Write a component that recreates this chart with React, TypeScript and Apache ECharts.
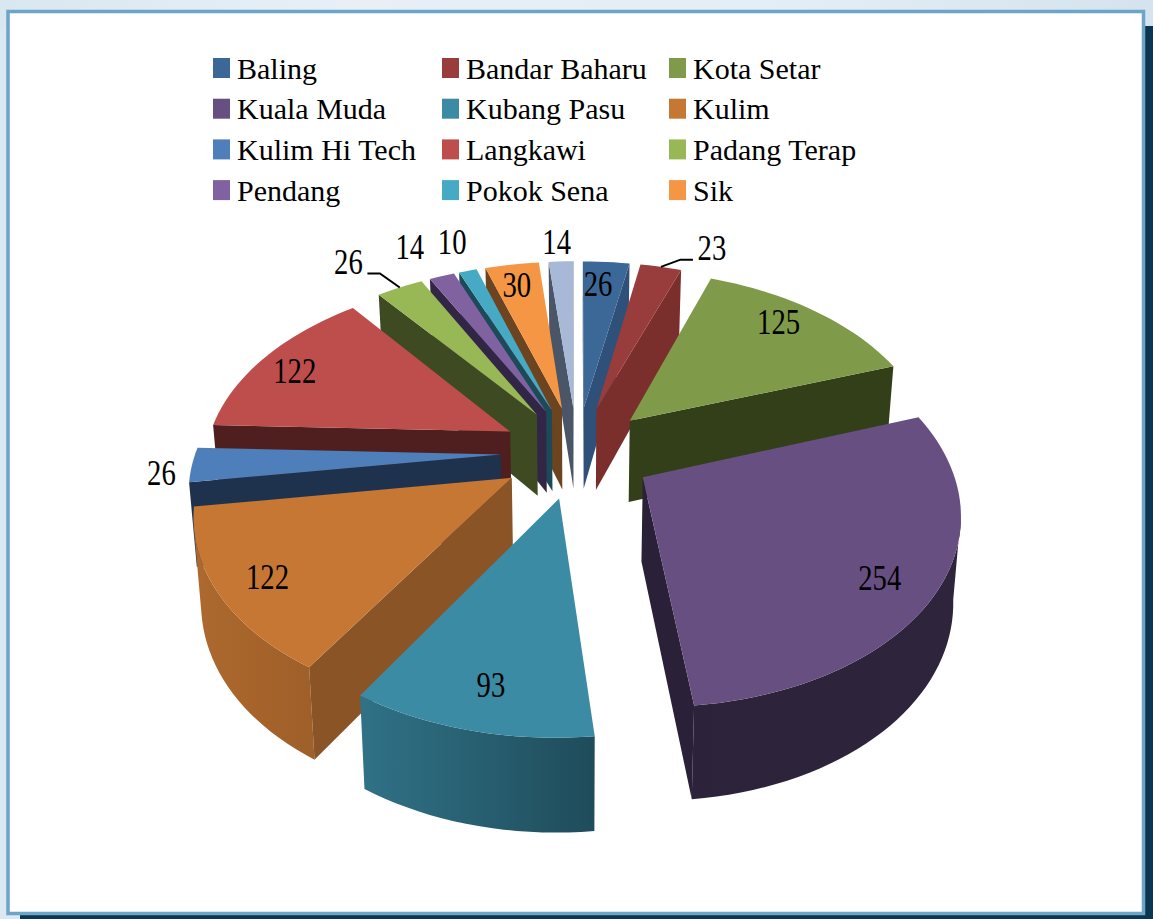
import React, { useEffect, useRef } from "react";
import * as echarts from "echarts";

// ---- data ----
const districts = ["Baling", "Bandar Baharu", "Kota Setar", "Kuala Muda", "Kubang Pasu", "Kulim", "Kulim Hi Tech", "Langkawi", "Padang Terap", "Pendang", "Pokok Sena", "Sik", "Yan"];
const values = [26, 23, 125, 254, 93, 122, 26, 122, 26, 14, 10, 30, 14];
const legendColumns = [
  ["Baling", "Kuala Muda", "Kulim Hi Tech", "Pendang"],
  ["Bandar Baharu", "Kubang Pasu", "Langkawi", "Pokok Sena"],
  ["Kota Setar", "Kulim", "Padang Terap", "Sik"],
];

// ---- styles ----
const topColors = ["#3c6898", "#983d3b", "#7f9a48", "#684f82", "#3c8ba4", "#c67734", "#4e7fbb", "#be4e4b", "#98b855", "#8062a0", "#46aac5", "#f59644", "#a8b9d7"];
const wallColors = ["#2f5179", "#7a2f2d", "#333f19", "#2a2037", "#1f4c5a", "#8a5426", "#1f324d", "#4f1e1e", "#3e4a22", "#322646", "#1c4a58", "#6d4420", "#4a5568"];
const rimLeft = ["#2f5179", "#7a2f2d", "#333f19", "#2c2239", "#307287", "#ad692e", "#1f324d", "#4f1e1e", "#3e4a22", "#322646", "#1c4a58", "#6d4420", "#4a5568"];
const rimRight = ["#2f5179", "#7a2f2d", "#333f19", "#2e243c", "#1f4c5a", "#9f5f29", "#1f324d", "#4f1e1e", "#3e4a22", "#322646", "#1c4a58", "#6d4420", "#4a5568"];

// ---- projection of the tilted pie ----
const CX = 577, CY = 452, SX = 305, SY = 183.5, PERSP = 0.162, EXPLODE = 0.25;
const project = (X: number, Y: number, drop = 0) => {
  const den = 1 - PERSP * Y;
  const x = CX + (X * SX) / den;
  const y = CY + (Y * SY) / den;
  if (!drop) return [x, y];
  const depth = 83 + 9.5 * Y;
  return [CX + (x - CX) * 0.98, y + depth];
};

// label placement: distance from the slice tip (in radii) and turn from its bisector (degrees)
const labelRadius = [0.83, 1.21, 0.844, 0.837, 0.827, 0.85, 1.093, 0.853, 1.287, 1.268, 1.241, 0.84, 1.155];
const labelTurn = [-1.3, 7.8, -3, 3, -0.6, -0.7, -1.9, -2, -3.5, -1.6, 0.3, -0.6, -0.6];
const leaderSlices = ["Bandar Baharu", "Padang Terap"];

const total = values.reduce((a, b) => a + b, 0);
const starts: number[] = [];
values.reduce((acc, v, i) => {
  starts[i] = (acc / total) * 360;
  return acc + v;
}, 0);
const rad = (d: number) => (d * Math.PI) / 180;
const dirX = (d: number) => Math.sin(rad(d));
const dirY = (d: number) => -Math.cos(rad(d));

function sliceItem(i: number, value: number) {
  const a0 = starts[i];
  const a1 = a0 + (value / total) * 360;
  const mid = (a0 + a1) / 2;
  const ox = EXPLODE * dirX(mid);
  const oy = EXPLODE * dirY(mid);
  const steps = Math.max(3, Math.ceil((a1 - a0) / 2));
  const arc: number[] = [];
  for (let k = 0; k <= steps; k++) arc.push(a0 + ((a1 - a0) * k) / steps);
  const rimPt = (a: number, drop = 0) => project(ox + dirX(a), oy + dirY(a), drop);
  const tip = project(ox, oy);
  const tipB = project(ox, oy, 1);
  const children: any[] = [];

  // outer wall: only the run of the rim that faces the viewer
  const run: number[] = [];
  for (let k = 0; k <= steps; k++) {
    const here = rimPt(arc[k]);
    const neighbour = k < steps ? rimPt(arc[k + 1]) : rimPt(arc[k] + 0.01);
    if (neighbour[0] < here[0]) run.push(arc[k]);
  }
  if (run.length > 1) {
    const top = run.map((a) => rimPt(a));
    const bottom = run.map((a) => rimPt(a, 1)).reverse();
    children.push({
      type: "polygon",
      shape: { points: [...top, ...bottom] },
      style: {
        fill: new echarts.graphic.LinearGradient(0, 0, 1, 0, [
          { offset: 0, color: rimLeft[i] },
          { offset: 1, color: rimRight[i] },
        ]),
      },
    });
  }

  // straight walls: visible when the drop falls away from the top face
  const inner = rimPt(mid);
  [a0, a1].forEach((a) => {
    const r = rimPt(a);
    const ex = r[0] - tip[0];
    const ey = r[1] - tip[1];
    const side = ex * (inner[1] - tip[1]) - ey * (inner[0] - tip[0]);
    const down = ex;
    if (side * down < 0) {
      children.push({
        type: "polygon",
        shape: { points: [tip, r, rimPt(a, 1), tipB] },
        style: { fill: wallColors[i] },
      });
    }
  });

  // top face
  children.push({
    type: "polygon",
    shape: { points: [tip, ...arc.map((a) => rimPt(a))] },
    style: { fill: topColors[i] },
  });

  // value label
  const la = mid + labelTurn[i];
  const lp = project(ox + labelRadius[i] * dirX(la), oy + labelRadius[i] * dirY(la));
  if (leaderSlices.includes(districts[i])) {
    const s = rimPt(mid);
    const sgn = lp[0] > s[0] ? 1 : -1;
    const end = [lp[0] - sgn * 19, lp[1] + 11.5];
    const elbow = [end[0] - sgn * 12.5, end[1]];
    children.push({
      type: "polyline",
      shape: { points: [s, elbow, end] },
      style: { stroke: "#000", lineWidth: 2, fill: "none" },
    });
  }
  children.push({
    type: "text",
    x: lp[0],
    y: lp[1],
    scaleX: 0.82,
    style: {
      text: String(value),
      fontFamily: "Liberation Serif",
      fontSize: 35,
      fill: "#000",
      align: "center",
      verticalAlign: "middle",
    },
  });
  return { type: "group", children };
}

const order = districts
  .map((_, i) => i)
  .sort((p, q) => {
    const mp = starts[p] + (values[p] / total) * 180;
    const mq = starts[q] + (values[q] / total) * 180;
    return dirY(mp) - dirY(mq);
  });

const legendLeft = [213, 442, 669];

export default function App() {
  const ref = useRef<HTMLDivElement>(null);
  useEffect(() => {
    const chart = echarts.init(ref.current!, null, { renderer: "svg" });
    chart.setOption({
      animation: false,
      backgroundColor: "#dbe8f1",
      graphic: {
        elements: [
          {
            type: "rect", silent: true, z: -5,
            shape: { x: 0, y: 0, width: 1153, height: 30 },
            style: {
              fill: new echarts.graphic.LinearGradient(0, 0, 1, 0, [
                { offset: 0, color: "#d9e7f0" },
                { offset: 0.3, color: "#e8f0f6" },
                { offset: 0.7, color: "#e3edf4" },
                { offset: 1, color: "#d4e3ee" },
              ]),
            },
          },
          { type: "rect", silent: true, z: -4, shape: { x: 20, y: 26, width: 1133, height: 893 }, style: { fill: "#0c3650" } },
          { type: "rect", silent: true, z: -3, shape: { x: 8, y: 11.5, width: 1135.5, height: 902 }, style: { fill: "#ffffff", stroke: "#6ba5c8", lineWidth: 3.5 } },
        ],
      },
      legend: legendColumns.map((names, c) => ({
        data: names,
        orient: "vertical",
        left: legendLeft[c],
        top: 53,
        padding: 0,
        itemWidth: 17,
        itemHeight: 20,
        itemGap: 10.7,
        icon: "rect",
        selectedMode: false,
        textStyle: { fontFamily: "Liberation Serif", fontSize: 30, color: "#000", padding: [0, 0, 0, 2] },
      })),
      series: order.map((i, rank) => ({
        type: "custom",
        name: districts[i],
        coordinateSystem: "none",
        silent: true,
        z: 2 + rank,
        itemStyle: { color: topColors[i] },
        data: [[values[i]]],
        renderItem: (_p: any, api: any) => sliceItem(i, api.value(0)),
      })),
    });
    return () => chart.dispose();
  }, []);
  return <div ref={ref} style={{ position: "fixed", left: 0, top: 0, width: 1153, height: 919 }} />;
}
